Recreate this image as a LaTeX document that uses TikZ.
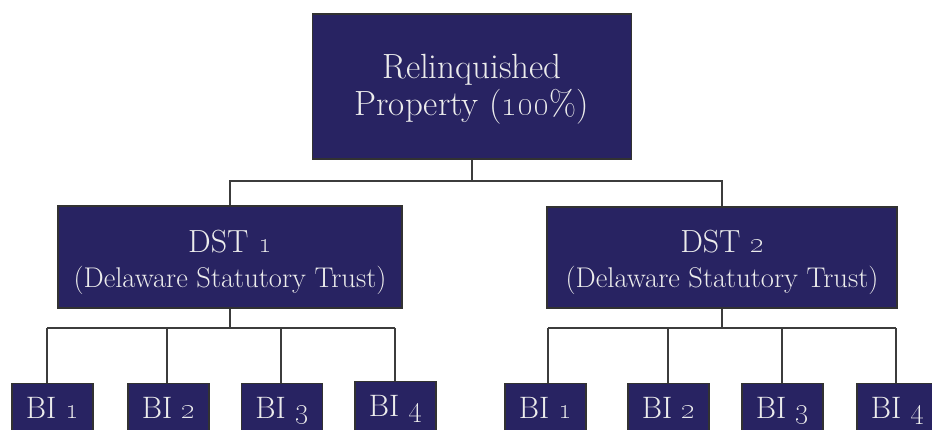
\documentclass[tikz,border=0pt]{standalone}
\definecolor{navy}{RGB}{40,35,98}
\definecolor{txt}{RGB}{236,236,236}
\definecolor{edge}{RGB}{50,50,50}
\definecolor{wire}{RGB}{60,60,60}
\begin{document}
\begin{tikzpicture}[x=1pt,y=-1pt,
  box/.style={draw=edge, line width=1.2pt, fill=navy, text=txt, align=center, inner sep=0pt},
  lbl/.style={text=txt, align=center, inner sep=0pt},
  bibox/.style={box, anchor=north, minimum width=81pt, minimum height=58pt,
     text height=35pt, text depth=23pt, font=\fontsize{31}{34}\selectfont},
  link/.style={draw=wire, line width=1.8pt}]
\useasboundingbox (0,0) rectangle (932,429);
\clip (0,0) rectangle (932,429);
\fill[white] (0,0) rectangle (932,429);

% top box
\node[box, minimum width=319pt, minimum height=145pt] (top) at (472,86.5) {};
\node[lbl, font=\fontsize{35}{37}\selectfont, yshift=-2.5pt] (toptext) at (top.center)
  {Relinquished\\Property (\oldstylenums{100}\%)};

% DST boxes
\node[box, minimum width=344pt, minimum height=102pt] (d1) at (230,257) {};
\node[lbl, font=\fontsize{28.5}{35}\selectfont, yshift=-5pt] (d1text) at (d1.center)
  {{\fontsize{32}{35}\selectfont DST \oldstylenums{1}}\\(Delaware Statutory Trust)};
\node[box, minimum width=350pt, minimum height=101pt] (d2) at (722,257.5) {};
\node[lbl, font=\fontsize{28.5}{35}\selectfont, yshift=-5pt] (d2text) at (d2.center)
  {{\fontsize{32}{35}\selectfont DST \oldstylenums{2}}\\(Delaware Statutory Trust)};

% BI boxes left
\node[bibox] (b11) at (52.5,383) {BI \oldstylenums{1}};
\node[bibox] (b12) at (168.5,383) {BI \oldstylenums{2}};
\node[bibox] (b13) at (282,383) {BI \oldstylenums{3}};
\node[bibox] (b14) at (395.5,381) {BI \oldstylenums{4}};
% BI boxes right
\node[bibox] (b21) at (545.5,383) {BI \oldstylenums{1}};
\node[bibox] (b22) at (668.5,383) {BI \oldstylenums{2}};
\node[bibox] (b23) at (782.5,383) {BI \oldstylenums{3}};
\node[bibox] (b24) at (897.5,383) {BI \oldstylenums{4}};

% connectors top level
\coordinate (bus0) at (472,181);
\draw[link] (top.south) -- (bus0);
\draw[link] (d1.north) |- (bus0) -| (d2.north);

% connectors DST 1
\coordinate (bus1) at (230,328);
\coordinate (v11) at (47,328);
\coordinate (v12) at (167,328);
\coordinate (v13) at (281,328);
\coordinate (v14) at (395,328);
\draw[link] (d1.south) -- (bus1);
\draw[link] (v11) -- (v14);
\draw[link] (v11) -- (v11 |- b11.north);
\draw[link] (v12) -- (v12 |- b12.north);
\draw[link] (v13) -- (v13 |- b13.north);
\draw[link] (v14) -- (v14 |- b14.north);

% connectors DST 2
\coordinate (bus2) at (722,328);
\coordinate (v21) at (548,328);
\coordinate (v22) at (668,328);
\coordinate (v23) at (782,328);
\coordinate (v24) at (896,328);
\draw[link] (d2.south) -- (bus2);
\draw[link] (v21) -- (v24);
\draw[link] (v21) -- (v21 |- b21.north);
\draw[link] (v22) -- (v22 |- b22.north);
\draw[link] (v23) -- (v23 |- b23.north);
\draw[link] (v24) -- (v24 |- b24.north);
\end{tikzpicture}
\end{document}
